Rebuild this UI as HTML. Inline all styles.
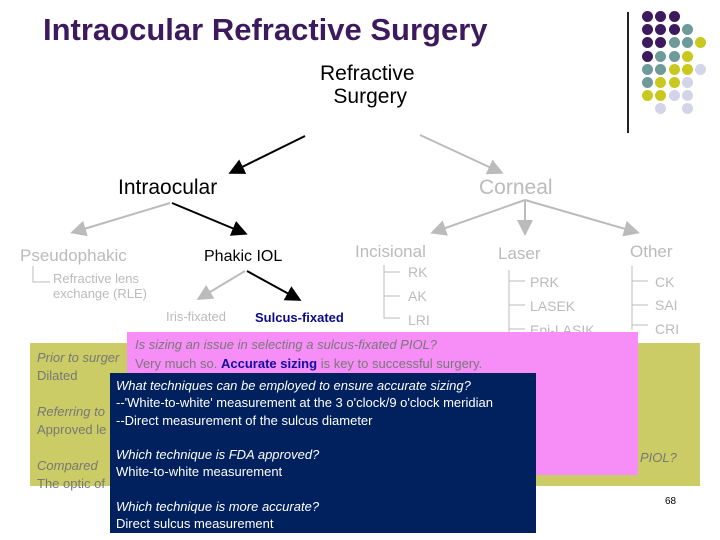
<!DOCTYPE html><html><head><style>
body{margin:0;width:720px;height:540px;background:#fff;position:relative;overflow:hidden;font-family:"Liberation Sans",sans-serif}
.t{position:absolute;white-space:nowrap}
.g{color:#bbb}
.d{position:absolute;width:11px;height:11px;border-radius:50%}
</style></head><body>
<div class="t" style="left:43px;top:12px;font-size:31px;font-weight:bold;color:#3d1a5e">Intraocular Refractive Surgery</div>
<div style="position:absolute;left:627px;top:12px;width:2px;height:121px;background:#222"></div>
<div id="dots"></div>
<div class="t" style="left:320px;top:62px;font-size:21px;line-height:23px;text-align:center">Refractive<br>&nbsp;Surgery</div>
<div class="t" style="left:118px;top:176px;font-size:21px">Intraocular</div>
<div class="t g" style="left:479px;top:176px;font-size:21px">Corneal</div>
<div class="t g" style="left:20px;top:246px;font-size:17px">Pseudophakic</div>
<div class="t g" style="left:53px;top:271px;font-size:13px;line-height:15px">Refractive lens<br>exchange (RLE)</div>
<div class="t" style="left:204px;top:248px;font-size:16px">Phakic IOL</div>
<div class="t g" style="left:166px;top:309px;font-size:13px">Iris-fixated</div>
<div class="t" style="left:255px;top:310px;font-size:13px;font-weight:bold;color:#0a0a8a">Sulcus-fixated</div>
<div class="t g" style="left:355px;top:242px;font-size:17px">Incisional</div>
<div class="t g" style="left:498px;top:244px;font-size:17px">Laser</div>
<div class="t g" style="left:630px;top:242px;font-size:17px">Other</div>
<div class="t g" style="left:408px;top:264px;font-size:14px">RK</div>
<div class="t g" style="left:408px;top:288px;font-size:14px">AK</div>
<div class="t g" style="left:408px;top:312px;font-size:14px">LRI</div>
<div class="t g" style="left:530px;top:274px;font-size:14px">PRK</div>
<div class="t g" style="left:530px;top:298px;font-size:14px">LASEK</div>
<div class="t g" style="left:530px;top:322px;font-size:14px">Epi-LASIK</div>
<div class="t g" style="left:655px;top:274px;font-size:14px">CK</div>
<div class="t g" style="left:655px;top:297px;font-size:14px">SAI</div>
<div class="t g" style="left:655px;top:321px;font-size:14px">CRI</div>
<svg width="720" height="540" style="position:absolute;left:0;top:0">
<defs><marker id="a" markerWidth="8" markerHeight="8" refX="6" refY="4" orient="auto"><path d="M0,0L8,4L0,8z" fill="#000"/></marker>
<marker id="b" markerWidth="8" markerHeight="8" refX="6" refY="4" orient="auto"><path d="M0,0L8,4L0,8z" fill="#bbb"/></marker></defs>
<g stroke-width="2" fill="none">
<line x1="305" y1="136" x2="232" y2="172" stroke="#000" marker-end="url(#a)"/>
<line x1="420" y1="135" x2="500" y2="172" stroke="#bbb" marker-end="url(#b)"/>
<line x1="170" y1="203" x2="74" y2="232" stroke="#bbb" marker-end="url(#b)"/>
<line x1="172" y1="203" x2="244" y2="233" stroke="#000" marker-end="url(#a)"/>
<line x1="525" y1="200" x2="434" y2="232" stroke="#bbb" marker-end="url(#b)"/>
<line x1="525" y1="200" x2="525" y2="232" stroke="#bbb" marker-end="url(#b)"/>
<line x1="525" y1="200" x2="636" y2="232" stroke="#bbb" marker-end="url(#b)"/>
<line x1="245" y1="271" x2="200" y2="298" stroke="#bbb" marker-end="url(#b)"/>
<line x1="247" y1="271" x2="298" y2="299" stroke="#000" marker-end="url(#a)"/>
</g>
<g stroke="#bbb" stroke-width="1" fill="none">
<path d="M33,266V282H50"/>
<path d="M384,265V318H400M384,272H400M384,296H400"/>
<path d="M509,270V335M509,281H525M509,305H525M509,329H525"/>
<path d="M632,266V330M632,281H648M632,305H648M632,325H648"/>
</g></svg>
<div style="position:absolute;left:30px;top:343px;width:670px;height:143px;background:#cccc66"></div>
<div class="t" style="left:37px;top:349px;font-size:13px;line-height:18px;color:#777"><i>Prior to surger</i><br>Dilated<br><br><i>Referring to</i><br>Approved le<br><br><i>Compared</i><br>The optic of</div>
<div class="t" style="left:640px;top:450px;font-size:13px;color:#777"><i>PIOL?</i></div>
<div style="position:absolute;left:127px;top:332px;width:511px;height:143px;background:#f78ef7"></div>
<div class="t" style="left:135px;top:335px;font-size:13px;line-height:19px;color:#777"><i>Is sizing an issue in selecting a sulcus-fixated PIOL?</i><br>Very much so. <b style="color:#1010a0">Accurate sizing</b> is key to successful surgery.</div>
<div style="position:absolute;left:110px;top:373px;width:426px;height:160px;background:#00205e"></div>
<div class="t" style="left:116px;top:377px;font-size:13px;line-height:17.3px;color:#fff"><i>What techniques can be employed to ensure accurate sizing?</i><br>--'White-to-white' measurement at the 3 o'clock/9 o'clock meridian<br>--Direct measurement of the sulcus diameter<br><br><i>Which technique is FDA approved?</i><br>White-to-white measurement<br><br><i>Which technique is more accurate?</i><br>Direct sulcus measurement</div>
<div class="t" style="left:665px;top:496px;font-size:10px">68</div>
<script>
var c={P:"#3d1a5e",T:"#6e9a9a",Y:"#c8c81e",L:"#d4d4e8"};
var r=["PPP","PPPT","PPTTY","PTTY","TTYYL","TYYL","YYLL",".L.L"];
var h="";r.forEach(function(s,i){for(var j=0;j<s.length;j++){if(s[j]=="."){continue}h+='<div class="d" style="left:'+(642+j*13.3)+'px;top:'+(11+i*13.2)+'px;background:'+c[s[j]]+'"></div>';}});
document.getElementById("dots").innerHTML=h;
</script>
</body></html>
